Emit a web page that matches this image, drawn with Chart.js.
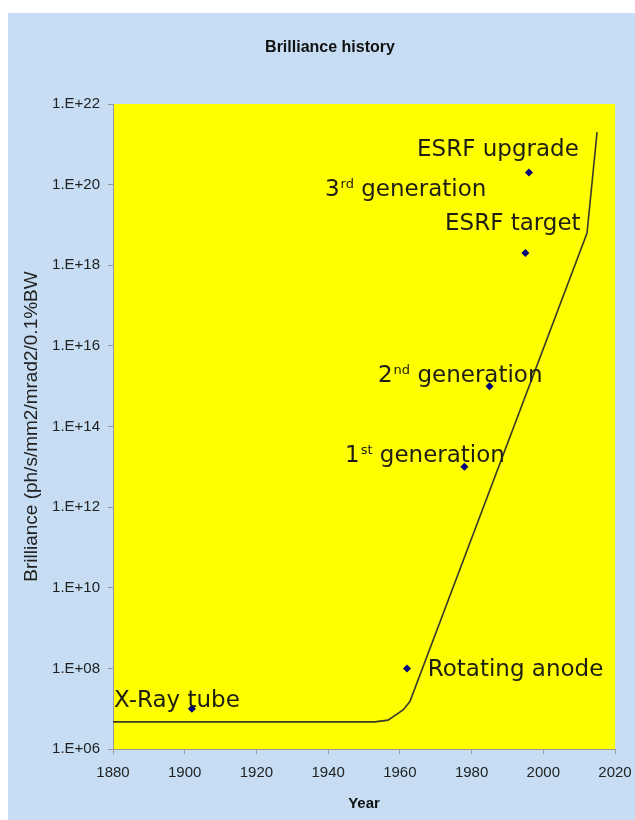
<!DOCTYPE html>
<html>
<head>
<meta charset="utf-8">
<script src="https://cdn.jsdelivr.net/npm/chart.js@4/dist/chart.umd.min.js"></script>
<style>
  html, body { margin: 0; padding: 0; background: #fff; }
  canvas { display: block; }
</style>
</head>
<body>
<canvas id="chart" width="635" height="820"></canvas>
<script>
// brilliance trend curve (year, ph/s/mm2/mrad2/0.1%BW)
const trendYears = [1880, 1953, 1956.7, 1960.9, 1962.8, 2012.2, 2015];
const trendValues = [4.7e6, 4.7e6, 5.2e6, 9.3e6, 1.5e7, 6.3e18, 2e21];

// individual sources
const sourceYears = [1902, 1962, 1978, 1985, 1995, 1996];
const sourceValues = [1e7, 1e8, 1e13, 1e15, 2e18, 2e20];

// text notes (left edge / baseline given in data units)
const noteMain = ["X-Ray tube", "Rotating anode", "1", "2", "ESRF target", "3", "ESRF upgrade"];
const noteSup = ["", "", "st", "nd", "", "rd", ""];
const noteTail = ["", "", " generation", " generation", "", " generation", ""];
const noteYears = [1880.3, 1967.8, 1944.7, 1953.9, 1972.6, 1939.1, 1964.8];
const noteValues = [1.1e7, 6.5e7, 1.3e13, 1.25e15, 7.6e18, 5.2e19, 5.1e20];

const yearTicks = [1880, 1900, 1920, 1940, 1960, 1980, 2000, 2020];
const brillianceTicks = [1e6, 1e8, 1e10, 1e12, 1e14, 1e16, 1e18, 1e20, 1e22];
const brillianceLabels = ["1.E+06", "1.E+08", "1.E+10", "1.E+12", "1.E+14", "1.E+16", "1.E+18", "1.E+20", "1.E+22"];

const chartTitle = "Brilliance history";

const backgrounds = {
    id: "backgrounds",
    beforeDraw(chart) {
        const ctx = chart.ctx;
        const a = chart.chartArea;
        ctx.save();
        ctx.fillStyle = "#ffffff";
        ctx.fillRect(0, 0, chart.width, chart.height);
        ctx.fillStyle = "#c6ddf3";
        ctx.fillRect(8, 13, chart.width - 8, chart.height - 13);
        ctx.fillStyle = "#ffff00";
        ctx.fillRect(a.left, a.top, a.right - a.left, a.bottom - a.top);
        // title sits a bit left of the plot centre, like the original sheet
        ctx.fillStyle = "#111";
        ctx.font = "bold 16px 'Liberation Sans', Arial, sans-serif";
        ctx.textAlign = "center";
        ctx.textBaseline = "middle";
        ctx.fillText(chartTitle, 330, 48);
        ctx.restore();
    }
};

const notes = {
    id: "notes",
    afterDatasetsDraw(chart) {
        const ctx = chart.ctx;
        const xs = chart.scales.x;
        const ys = chart.scales.y;
        ctx.save();
        ctx.fillStyle = "#1e1e14";
        ctx.textBaseline = "alphabetic";
        ctx.textAlign = "left";
        for (let i = 0; i < noteMain.length; i++) {
            let x = xs.getPixelForValue(noteYears[i]);
            const y = ys.getPixelForValue(noteValues[i]);
            ctx.font = "23px 'DejaVu Sans'";
            ctx.fillText(noteMain[i], x, y);
            x += ctx.measureText(noteMain[i]).width;
            if (noteSup[i]) {
                ctx.font = "13px 'DejaVu Sans'";
                ctx.fillText(noteSup[i], x + 1, y - 8);
                x += ctx.measureText(noteSup[i]).width + 1;
            }
            if (noteTail[i]) {
                ctx.font = "23px 'DejaVu Sans'";
                ctx.fillText(noteTail[i], x, y);
            }
        }
        ctx.restore();
    }
};

const tickFont = { family: "'Liberation Sans', Arial, sans-serif", size: 15 };

new Chart(document.getElementById("chart"), {
    type: "scatter",
    data: {
        datasets: [{
            label: "Sources",
            data: sourceYears.map((yr, i) => ({ x: yr, y: sourceValues[i] })),
            pointStyle: "rectRot",
            pointRadius: 4,
            backgroundColor: "#00007a",
            borderColor: "#00007a",
            borderWidth: 0,
            order: 0
        }, {
            label: "Trend",
            data: trendYears.map((yr, i) => ({ x: yr, y: trendValues[i] })),
            showLine: true,
            pointRadius: 0,
            borderColor: "#3a3a28",
            borderWidth: 1.6,
            order: 1
        }]
    },
    options: {
        responsive: false,
        animation: false,
        devicePixelRatio: 1,
        layout: { padding: { left: 20, right: 20, top: 104, bottom: 0 } },
        plugins: {
            legend: { display: false },
            tooltip: { enabled: false },
            title: { display: false }
        },
        scales: {
            x: {
                type: "linear",
                min: 1880,
                max: 2020,
                afterBuildTicks(scale) { scale.ticks = yearTicks.map(v => ({ value: v })); },
                afterFit(scale) {
                    scale.height = 71;
                    scale.paddingLeft = 0;
                    scale.paddingRight = 0;
                },
                ticks: { color: "#222", font: tickFont, padding: 10, callback: (v) => String(v) },
                grid: { drawOnChartArea: false, tickLength: 5, color: "#999" },
                border: { display: true, color: "#999" },
                title: {
                    display: true,
                    text: "Year",
                    color: "#111",
                    font: { family: "'Liberation Sans', Arial, sans-serif", size: 15, weight: "bold" },
                    padding: { top: 0, bottom: 7 }
                }
            },
            y: {
                type: "logarithmic",
                min: 1e6,
                max: 1e22,
                afterBuildTicks(scale) { scale.ticks = brillianceTicks.map(v => ({ value: v })); },
                afterFit(scale) {
                    scale.width = 93;
                    scale.paddingTop = 0;
                    scale.paddingBottom = 0;
                },
                ticks: { color: "#222", font: tickFont, padding: 8, callback: (v, i) => brillianceLabels[i] },
                grid: { drawOnChartArea: false, tickLength: 5, color: "#999" },
                border: { display: true, color: "#999" },
                title: {
                    display: true,
                    text: "Brilliance (ph/s/mm2/mrad2/0.1%BW",
                    color: "#222",
                    font: { family: "'Liberation Sans', Arial, sans-serif", size: 19 },
                    padding: 0
                }
            }
        }
    },
    plugins: [backgrounds, notes]
});
</script>
</body>
</html>
